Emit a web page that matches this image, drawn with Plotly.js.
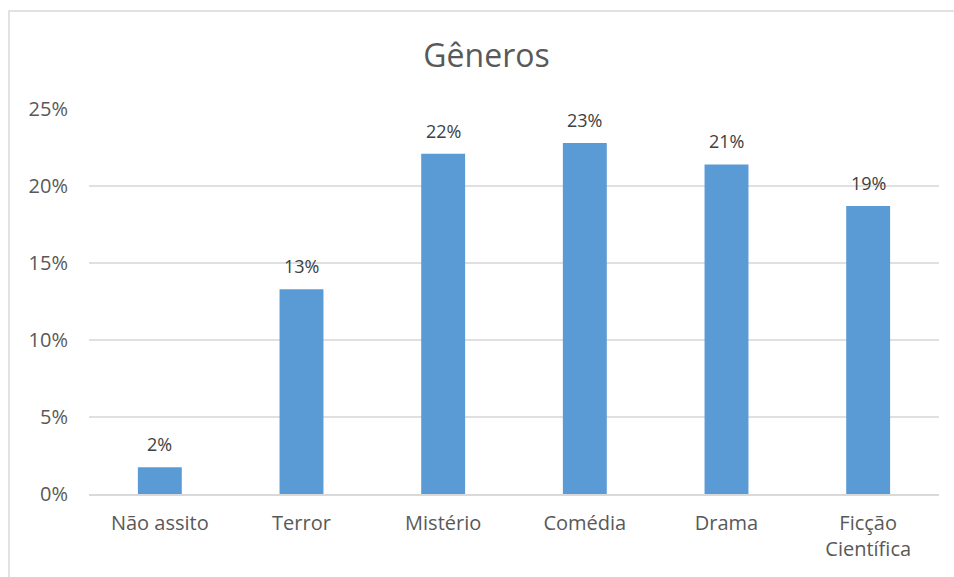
<!DOCTYPE html>
<html>
<head>
<meta charset="utf-8">
<script src="https://cdn.plot.ly/plotly-3.0.1.min.js"></script>
<style>html,body{margin:0;padding:0;background:#fff;}#chart{width:954px;height:577px;}</style>
</head>
<body>
<div id="chart"></div>
<script>
var categories = ["Não assito", "Terror", "Mistério", "Comédia", "Drama", "Ficção<br>Científica"];
var values = [0.0173, 0.133, 0.221, 0.228, 0.214, 0.187];
var yTickValues = [0, 0.05, 0.10, 0.15, 0.20, 0.25];
var yTickLabels = ["0%", "5%", "10%", "15%", "20%", "25%"];

var font = "Open Sans, Liberation Sans, sans-serif";
var trace = {
  type: "bar",
  x: categories,
  y: values,
  marker: {color: "#5b9bd5"},
  hoverinfo: "skip"
};
var annotations = categories.map(function(c, i){
  return {
    x: c, y: values[i], xref: "x", yref: "y",
    text: Math.round(values[i]*100) + "%",
    showarrow: false, yanchor: "bottom", yshift: 9,
    font: {family: font, size: 18, color: "#404040"}
  };
});
var layout = {
  width: 954, height: 577,
  margin: {l: 89, r: 15, t: 109, b: 83},
  paper_bgcolor: "#ffffff",
  plot_bgcolor: "#ffffff",
  bargap: 0.69,
  showlegend: false,
  title: {text: "Gêneros", x: 0.51, xanchor: "center", y: 0.903, yanchor: "middle",
          font: {family: font, size: 32, color: "#595959"}},
  xaxis: {
    type: "category",
    showgrid: false,
    showline: true, linecolor: "#d9d9d9", linewidth: 1.5,
    ticks: "", ticklabelstandoff: 10,
    tickfont: {family: font, size: 20, color: "#595959"},
    automargin: false
  },
  yaxis: {
    range: [0, 0.25],
    tickvals: yTickValues, ticktext: yTickLabels,
    showgrid: true, gridcolor: "#e0e0e0", gridwidth: 1.2,
    zeroline: false, showline: false, ticks: "",
    ticklabelstandoff: 20,
    tickfont: {family: font, size: 20, color: "#595959"},
    automargin: false
  },
  annotations: annotations,
  shapes: [{
    type: "rect", xref: "paper", yref: "paper",
    x0: (9-89)/850, x1: 1.5, y0: -1, y1: (494-11)/385,
    line: {color: "#d9d9d9", width: 1.5}, fillcolor: "rgba(0,0,0,0)", layer: "below"
  }]
};
Plotly.newPlot("chart", [trace], layout, {staticPlot: true, displayModeBar: false});
</script>
</body>
</html>
